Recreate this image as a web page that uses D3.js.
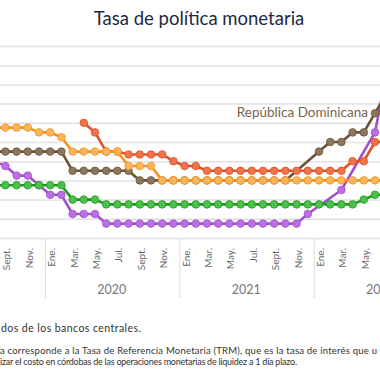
<!DOCTYPE html>
<html><head><meta charset="utf-8">
<script src="https://cdn.jsdelivr.net/npm/d3@7"></script>
<style>body{margin:0;background:#fff}svg{display:block}</style>
</head><body>
<svg id="c" width="380" height="380"></svg>
<script>
// Months Aug 2019 .. Jul 2022
const monthLabels = ["", "Sept.", "", "Nov.", "",
  "Ene.", "", "Mar.", "", "May.", "", "Jul.", "", "Sept.", "", "Nov.", "",
  "Ene.", "", "Mar.", "", "May.", "", "Jul.", "", "Sept.", "", "Nov.", "",
  "Ene.", "", "Mar.", "", "May.", "", ""];
const years = [{label:"2020", from:5, to:16}, {label:"2021", from:17, to:28}, {label:"2022", from:29, to:40}];
const yTicks = [0,1,2,3,4,5,6,7,8,9,10];

const costaRica   = [4.0,3.75,3.25,3.25,2.75,2.25,2.25,1.25,1.25,1.25,0.75,0.75,0.75,0.75,0.75,0.75,0.75,0.75,0.75,0.75,0.75,0.75,0.75,0.75,0.75,0.75,0.75,0.75,1.25,null,null,2.5,null,null,5.5,8.5];
const guatemala   = [2.75,2.75,2.75,2.75,2.75,2.75,2.75,2.0,2.0,2.0,1.75,1.75,1.75,1.75,1.75,1.75,1.75,1.75,1.75,1.75,1.75,1.75,1.75,1.75,1.75,1.75,1.75,1.75,1.75,1.75,1.75,1.75,1.75,2.0,2.25,2.25];
const dominicana  = [4.5,4.5,4.5,4.5,4.5,4.5,4.5,3.5,3.5,3.5,3.5,3.5,3.5,3.0,3.0,3.0,3.0,3.0,3.0,3.0,3.0,3.0,3.0,3.0,3.0,3.0,3.0,null,null,4.5,5.0,5.0,5.5,5.5,6.5,7.5];
const nicaragua   = [null,null,null,null,null,null,null,null,6.0,5.5,4.5,4.5,4.35,4.35,4.35,4.35,4.0,3.75,3.75,3.5,3.5,3.5,3.5,3.5,3.5,3.5,3.5,3.5,3.5,3.5,3.5,3.5,4.0,4.0,5.0,5.0];
const honduras    = [5.75,5.75,5.75,5.75,5.5,5.5,5.25,4.5,4.5,4.5,4.5,4.5,3.75,3.75,3.75,3.0,3.0,3.0,3.0,3.0,3.0,3.0,3.0,3.0,3.0,3.0,3.0,3.0,3.0,3.0,3.0,3.0,3.0,3.0,3.0,3.0];

const series = [
  {name:"Costa Rica", values:costaRica, line:"#a24fcc", fill:"#bb6fe3"},
  {name:"Guatemala", values:guatemala, line:"#1c9a1c", fill:"#4fc04f"},
  {name:"República Dominicana", values:dominicana, line:"#6b5436", fill:"#8b765e"},
  {name:"Nicaragua", values:nicaragua, line:"#e0512a", fill:"#f07349"},
  {name:"Honduras", values:honduras, line:"#f6921e", fill:"#fbb65c"}
];

const svg = d3.select("#c");
const W = 380;
const x = d3.scaleLinear().domain([0, 35]).range([-5.8, 386.2]);
const y = d3.scaleLinear().domain([0, 10]).range([238, 46]);
const font = "Lato, 'Open Sans', sans-serif";

// title
svg.append("text").attr("x", 199).attr("y", 25).attr("text-anchor", "middle")
  .attr("font-family", font).attr("font-size", 18.5).attr("fill", "#1e2a44")
  .text("Tasa de política monetaria");

// gridlines
const grid = svg.append("g").call(d3.axisLeft(y).tickValues(yTicks).tickSize(-W).tickFormat(""));
grid.select(".domain").remove();
grid.selectAll(".tick line").attr("stroke", "#e2e2e2").attr("stroke-width", 1.5);

// x axis
const labeled = monthLabels.map((d,i)=>d?i:null).filter(d=>d!==null);
const xa = svg.append("g").attr("transform", `translate(0,${y(0)})`)
  .call(d3.axisBottom(x).tickValues(labeled).tickSize(0).tickFormat(i => monthLabels[i]));
xa.select(".domain").remove();
xa.selectAll("text").attr("transform", "rotate(-90)").attr("text-anchor", "end")
  .attr("x", -10).attr("y", 0).attr("dy", "0.45em")
  .attr("font-family", font).attr("font-size", 10).attr("fill", "#666");

// year separators and labels
years.forEach(yr => {
  const sx = x(yr.from - 0.5) + 0.8;
  svg.append("line").attr("x1", sx).attr("x2", sx).attr("y1", y(0)).attr("y2", 298)
    .attr("stroke", "#e0e0e0").attr("stroke-width", 1.2);
  svg.append("text").attr("x", x((yr.from + yr.to) / 2)).attr("y", 294)
    .attr("text-anchor", "middle").attr("font-family", font).attr("font-size", 12.5)
    .attr("fill", "#777").text(yr.label);
});

// series
const line = d3.line().x(d => x(d.i)).y(d => y(d.v));
series.forEach(s => {
  const pts = s.values.map((v,i)=>({i, v})).filter(d => d.v !== null);
  const g = svg.append("g");
  g.append("path").datum(pts).attr("d", line).attr("fill", "none")
    .attr("stroke", s.line).attr("stroke-width", 2.6).attr("stroke-linejoin", "round");
  g.selectAll("circle").data(pts).join("circle")
    .attr("cx", d => x(d.i)).attr("cy", d => y(d.v)).attr("r", 3.8)
    .attr("fill", s.fill).attr("stroke", s.line).attr("stroke-width", 0.8);
});

// label
svg.append("text").attr("x", 368).attr("y", 117).attr("text-anchor", "end")
  .attr("font-family", font).attr("font-size", 13.5).attr("fill", "#7a6448")
  .text("República Dominicana");

// footer
const foot = [
  {t:"dos de los bancos centrales.", x:1, y:332, w:140, fs:10.5},
  {t:"a corresponde a la Tasa de Referencia Monetaria (TRM), que es la tasa de interés que u", x:0, y:354, w:377, fs:9.5},
  {t:"izar el costo en córdobas de las operaciones monetarias de liquidez a 1 día plazo.", x:0, y:364.5, w:297, fs:9}
];
foot.forEach(f => svg.append("text").attr("x", f.x).attr("y", f.y)
  .attr("font-family", font).attr("font-size", f.fs).attr("fill", "#333")
  .attr("textLength", f.w).attr("lengthAdjust", "spacing").text(f.t));
</script>
</body></html>
